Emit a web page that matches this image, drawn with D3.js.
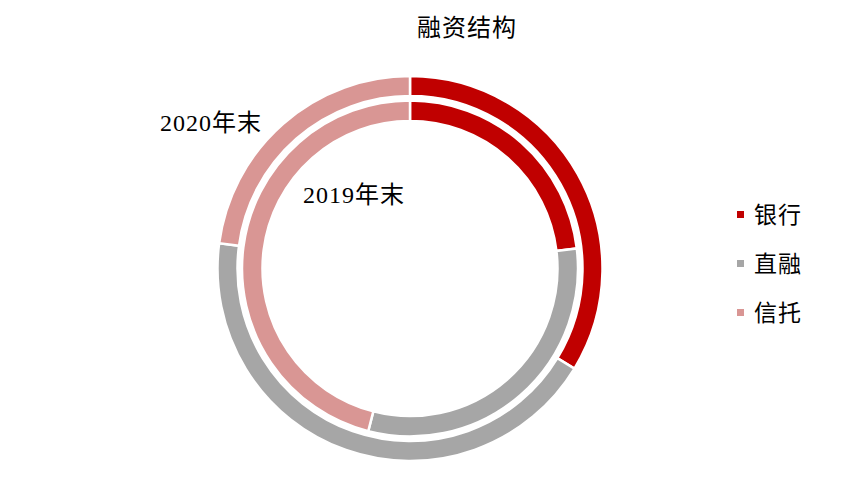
<!DOCTYPE html>
<html>
<head>
<meta charset="utf-8">
<script src="https://d3js.org/d3.v7.min.js"></script>
<style>
  body { margin: 0; background: #fff; }
  text { font-family: "Liberation Serif", "Noto Sans CJK SC", serif; fill: #000; }
</style>
</head>
<body>
<svg id="chart" width="845" height="480"></svg>
<script>
var categories = ["银行", "直融", "信托"];
var values2019 = [23.1, 30.9, 46.0];
var values2020 = [33.7, 43.4, 22.9];
var ringLabels = ["2019年末", "2020年末"];
var title = "融资结构";

var svg = d3.select("#chart");
var cx = 410, cy = 268.5;

var color = d3.scaleOrdinal()
  .domain(categories)
  .range(["#C00000", "#A6A6A6", "#D99694"]);

var pie = d3.pie().sort(null).value(function(d) { return d.v; });

function ring(values, r0, r1) {
  var arc = d3.arc().innerRadius(r0).outerRadius(r1);
  var data = values.map(function(v, i) { return {name: categories[i], v: v}; });
  var g = svg.append("g").attr("transform", "translate(" + cx + "," + cy + ")");
  g.selectAll("path")
    .data(pie(data))
    .enter()
    .append("path")
    .attr("d", arc)
    .attr("fill", function(d) { return color(d.data.name); })
    .attr("stroke", "#fff")
    .attr("stroke-width", 2.5);
}

ring(values2020, 172.5, 192.5);
ring(values2019, 147.5, 168);

// title
svg.append("text")
  .attr("x", 467).attr("y", 36)
  .attr("text-anchor", "middle")
  .attr("font-size", 24)
  .attr("letter-spacing", 1)
  .text(title);

// ring labels
svg.append("text").attr("x", 160).attr("y", 131)
  .attr("font-size", 24).attr("letter-spacing", 1)
  .text(ringLabels[1]);
svg.append("text").attr("x", 303).attr("y", 203)
  .attr("font-size", 24).attr("letter-spacing", 1)
  .text(ringLabels[0]);

// legend
var legend = svg.selectAll(".legend")
  .data(categories)
  .enter()
  .append("g")
  .attr("class", "legend")
  .attr("transform", function(d, i) { return "translate(737," + (215 + i * 49) + ")"; });

legend.append("rect")
  .attr("x", 0).attr("y", -4)
  .attr("width", 7).attr("height", 7)
  .attr("fill", function(d) { return color(d); });

legend.append("text")
  .attr("x", 17).attr("y", 8)
  .attr("font-size", 23)
  .attr("letter-spacing", 1)
  .text(function(d) { return d; });
</script>
</body>
</html>
